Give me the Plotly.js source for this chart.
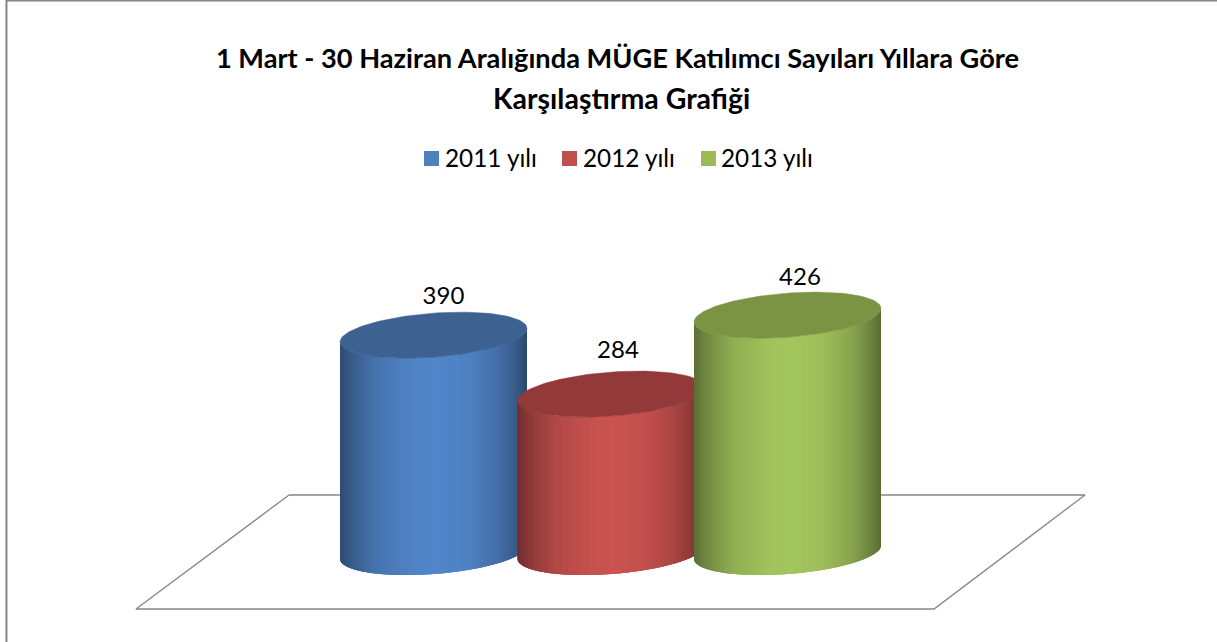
<!DOCTYPE html>
<html><head><meta charset="utf-8">
<script src="https://cdn.plot.ly/plotly-3.0.1.min.js"></script>
<style>html,body{margin:0;padding:0;background:#fff}</style></head>
<body><div id="chart" style="width:1217px;height:642px"></div>
<script>
const categories = ['2011 yılı', '2012 yılı', '2013 yılı'];
const values = [390, 284, 426];
const peakColors = [[82,134,202],[203,83,80],[164,198,94]];
const topColors = ['#3d6291','#93393a','#7b9444'];
const legendColors = ['#4f81bd','#c0504d','#9bbb59'];
const titleLines = ['1 Mart - 30 Haziran Aralığında MÜGE Katılımcı Sayıları Yıllara Göre','Karşılaştırma Grafiği'];

// geometry of the drawing (pixel-based x axis, value-based y axis)
const W = 1217, H = 642, baseY = 552, pxPerUnit = 0.556;
const centers = [433.5, 611, 787.5];
const A = 93.5, B = 22, S = 6.8;
const unit = p => p / pxPerUnit;
const pyToV = py => (baseY - py) / pxPerUnit;
const shade = [[0,.56],[.06,.68],[.2,.87],[.4,.98],[.52,1],[.7,.95],[.85,.82],[.95,.66],[1,.55]];
function shadeAt(u){
  for(let i=1;i<shade.length;i++){ if(u<=shade[i][0]){
    const a=shade[i-1],b=shade[i],f=(u-a[0])/(b[0]-a[0]); return a[1]+(b[1]-a[1])*f; } }
  return shade[shade.length-1][1];
}
const traces = [];
// floor
const fx=[289,1085,934,136,289], fy=[495,495,609,609,495];
traces.push({x:fx,y:fy.map(pyToV),mode:'lines',line:{color:'#868686',width:1.3},hoverinfo:'skip',showlegend:false});

values.forEach((v,k)=>{
  const cx=centers[k], n=120;
  const pt=(t,lv)=>[cx+A*Math.cos(t), lv - unit(-S*Math.cos(t)+B*Math.sin(t))];
  // painted left to right; every strip overlaps the next so no seams appear
  for(let i=n-1;i>=0;i--){
    const t0=Math.max(0,Math.PI*(i-2)/n), t1=Math.PI*(i+1)/n;
    const a0=pt(t0,0),a1=pt(t1,0),b0=pt(t0,v),b1=pt(t1,v);
    const um=(Math.cos(Math.PI*(i+.5)/n)+1)/2;
    const s=shadeAt(um), c=peakColors[k].map(q=>Math.round(q*s));
    const col=`rgb(${c[0]},${c[1]},${c[2]})`;
    const tm=(t0+t1)/2, am=pt(tm,0), bm=pt(tm,v);
    traces.push({x:[a0[0],am[0],a1[0],b1[0],bm[0],b0[0],a0[0]],y:[a0[1],am[1],a1[1],b1[1],bm[1],b0[1],a0[1]],
      mode:'lines',fill:'toself',fillcolor:col,line:{width:0},hoverinfo:'skip',showlegend:false});
  }
  const ex=[],ey=[];
  for(let i=0;i<=120;i++){const t=2*Math.PI*i/120,p=pt(t,v);ex.push(p[0]);ey.push(p[1]);}
  traces.push({x:ex,y:ey,mode:'lines',fill:'toself',fillcolor:topColors[k],line:{color:topColors[k],width:.5},hoverinfo:'skip',showlegend:false});
});
// data labels
const labelDx=[10,7,12.5], labelDy=[37.2,42,36.1];
traces.push({x:centers.map((c,i)=>c+labelDx[i]),y:values.map((v,i)=>v+unit(labelDy[i])),mode:'text',
  text:values.map(String),textposition:'middle center',textfont:{family:'Lato, sans-serif',size:24,color:'#000'},
  hoverinfo:'skip',showlegend:false});
// legend row
const legendSwatchX=[431.5,569.5,708.5], legendTextX=[445,583,721], legendSwatchY=158.5, legendTextY=160.5;
categories.forEach((c,i)=>{
  traces.push({x:[legendSwatchX[i]],y:[pyToV(legendSwatchY)],name:c,mode:'markers',
    marker:{symbol:'square',size:15,color:legendColors[i],line:{width:0}},hoverinfo:'skip',showlegend:false});
  traces.push({x:[legendTextX[i]],y:[pyToV(legendTextY)],mode:'text',text:[c],textposition:'middle right',
    textfont:{family:'Lato, sans-serif',size:24.3,color:'#000'},hoverinfo:'skip',showlegend:false});
});

const layout={
  width:W,height:H,margin:{l:0,r:0,t:0,b:0},paper_bgcolor:'#fff',plot_bgcolor:'#fff',showlegend:false,
  font:{family:'Lato, sans-serif',color:'#000'},
  title:{text:titleLines[0],x:617.5/W,xanchor:'center',y:1-58/H,yanchor:'middle',
    font:{family:'Lato, sans-serif',size:27.2,weight:700,color:'#000'}},
  annotations:[{text:titleLines[1],xref:'paper',yref:'paper',x:621/W,xanchor:'center',y:1-98/H,yanchor:'middle',
    showarrow:false,font:{family:'Lato, sans-serif',size:28.5,weight:700,color:'#000'}}],
  xaxis:{range:[0,W],visible:false,fixedrange:true},
  yaxis:{range:[pyToV(H),pyToV(0)],visible:false,fixedrange:true},
  shapes:[{type:'path',xref:'paper',yref:'paper',path:'M 0.0053 0 L 0.0053 0.9993 L 1 0.9993',line:{color:'#868686',width:2}}]
};
Plotly.newPlot('chart',traces,layout,{displayModeBar:false,staticPlot:true});
</script></body></html>
